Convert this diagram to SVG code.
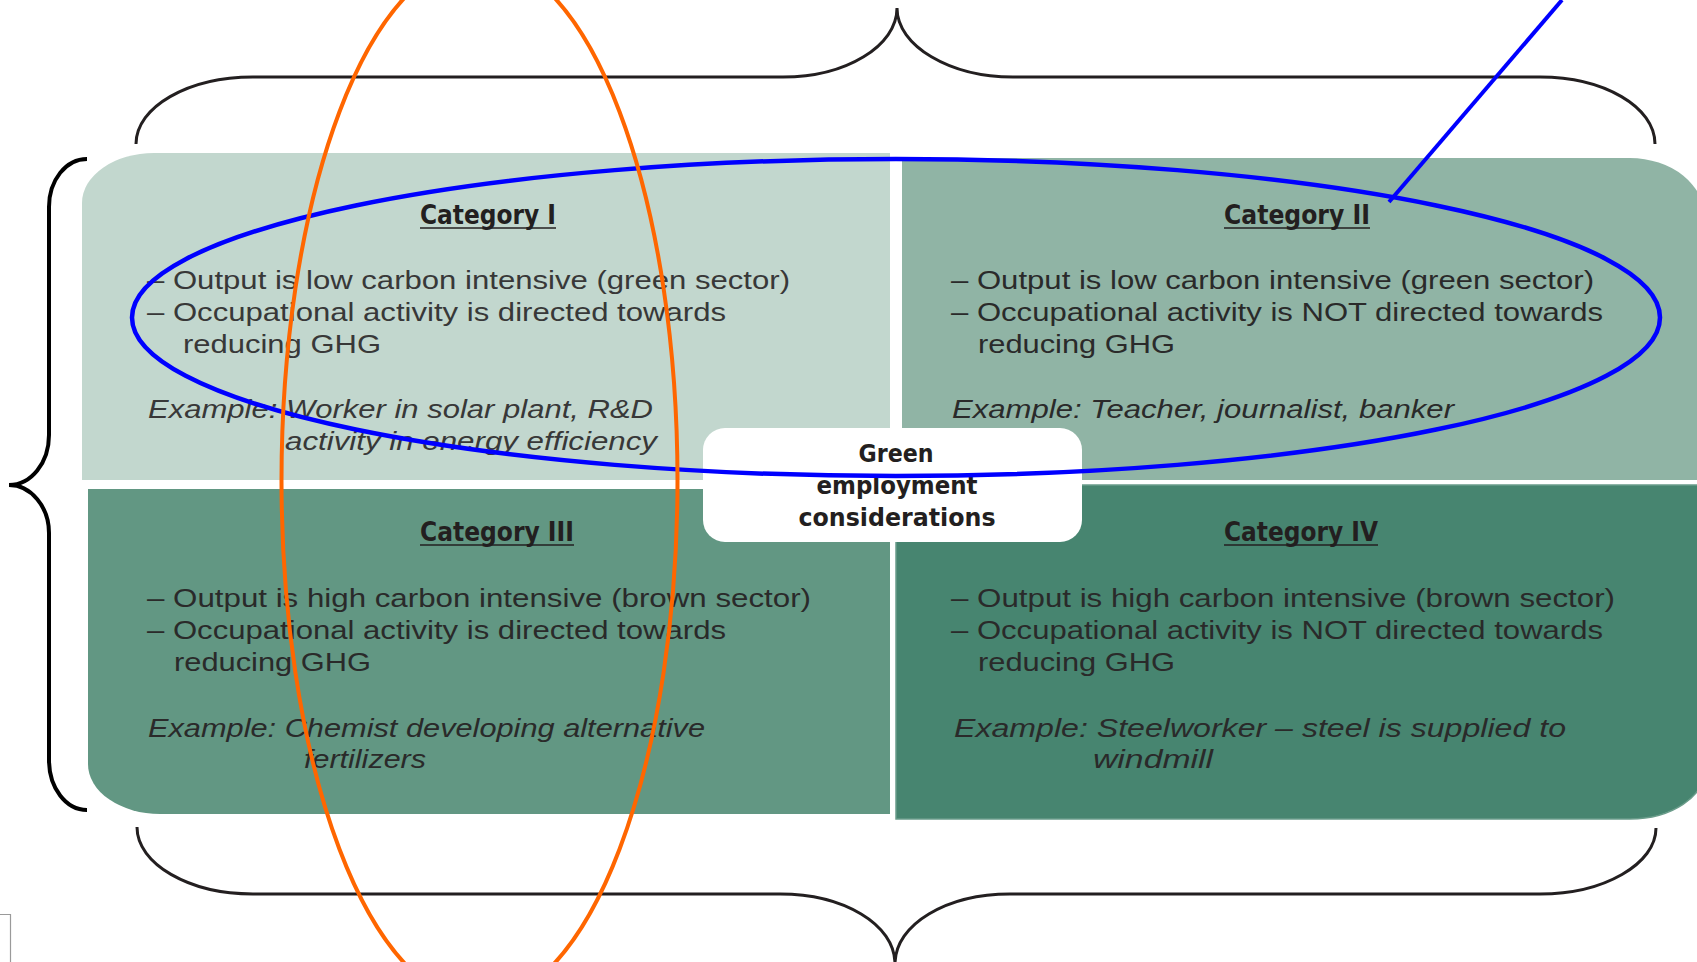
<svg xmlns="http://www.w3.org/2000/svg" width="1697" height="962" viewBox="0 0 1697 962">
<style>
.body{font-family:"Liberation Sans",Arial,sans-serif;font-size:26px;fill:#383838}
.dark{fill:#2a2a2a}
.ex{font-style:italic}
.head{font-family:"Liberation Sans Narrow","DejaVu Sans Condensed","Liberation Sans",sans-serif;font-size:26px;font-weight:bold;fill:#231f20}
.center{font-family:"DejaVu Sans Condensed","Liberation Sans",sans-serif;font-size:25px;font-weight:bold;fill:#231f20;text-anchor:middle}
.ul{stroke:#231f20;stroke-width:1.6}
.brace{fill:none;stroke:#231f20;stroke-width:3}
</style>
<rect width="1697" height="962" fill="#ffffff"/>

<g id="braces">
<path class="brace" d="M136,144 C136,107 188,77 253,77 L783,77 C846,77 897,46 897,8 C897,46 950,77 1013,77 L1540,77 C1604,77 1655,107 1655,144"/>
<path class="brace" d="M137,827 C137,864 189,894 253,894 L780,894 C843,894 895,924 895,964 C895,924 947,894 1010,894 L1540,894 C1604,894 1656,864 1656,828"/>
<path fill="none" stroke="#000000" stroke-width="4" d="M87,159 C66,159 49,180 49,207 L49,435 C49,463 31,485 9,485 C31,485 49,507 49,533 L49,760 C49,788 66,810 87,810"/>
<path fill="none" stroke="#9a9a9a" stroke-width="1.2" d="M0,914.5 L10.5,914.5 L10.5,962"/>
</g>

<g id="cat1">
<path d="M82,480 L82,203 A72,50 0 0 1 154,153 L890,153 L890,480 Z" fill="#c2d7ce"/>
<text class="head" x="420" y="224" textLength="136" lengthAdjust="spacingAndGlyphs">Category I</text>
<line class="ul" x1="420" y1="228" x2="556" y2="228"/>
<text class="body" x="147" y="289" textLength="643" lengthAdjust="spacingAndGlyphs">– Output is low carbon intensive (green sector)</text>
<text class="body" x="147" y="321" textLength="579" lengthAdjust="spacingAndGlyphs">– Occupational activity is directed towards</text>
<text class="body" x="183" y="353" textLength="198" lengthAdjust="spacingAndGlyphs">reducing GHG</text>
<text class="body ex" x="148" y="418" textLength="505" lengthAdjust="spacingAndGlyphs">Example: Worker in solar plant, R&amp;D</text>
<text class="body ex" x="285" y="450" textLength="372" lengthAdjust="spacingAndGlyphs">activity in energy efficiency</text>
</g>

<g id="cat2">
<path d="M902,158 L1630,158 A75,60 0 0 1 1705,218 L1705,480 L902,480 Z" fill="#90b4a5"/>
<text class="head" x="1224" y="224" textLength="146" lengthAdjust="spacingAndGlyphs">Category II</text>
<line class="ul" x1="1224" y1="228" x2="1370" y2="228"/>
<text class="body dark" x="951" y="289" textLength="643" lengthAdjust="spacingAndGlyphs">– Output is low carbon intensive (green sector)</text>
<text class="body dark" x="951" y="321" textLength="652" lengthAdjust="spacingAndGlyphs">– Occupational activity is NOT directed towards</text>
<text class="body dark" x="978" y="353" textLength="197" lengthAdjust="spacingAndGlyphs">reducing GHG</text>
<text class="body dark ex" x="952" y="418" textLength="502" lengthAdjust="spacingAndGlyphs">Example: Teacher, journalist, banker</text>
</g>

<g id="cat3">
<path d="M88,489 L890,489 L890,814 L160,814 A72,50 0 0 1 88,764 Z" fill="#629783"/>
<text class="head" x="420" y="541" textLength="154" lengthAdjust="spacingAndGlyphs">Category III</text>
<line class="ul" x1="420" y1="545" x2="574" y2="545"/>
<text class="body dark" x="147" y="607" textLength="664" lengthAdjust="spacingAndGlyphs">– Output is high carbon intensive (brown sector)</text>
<text class="body dark" x="147" y="639" textLength="579" lengthAdjust="spacingAndGlyphs">– Occupational activity is directed towards</text>
<text class="body dark" x="174" y="671" textLength="197" lengthAdjust="spacingAndGlyphs">reducing GHG</text>
<text class="body dark ex" x="148" y="737" textLength="557" lengthAdjust="spacingAndGlyphs">Example: Chemist developing alternative</text>
<text class="body dark ex" x="304" y="768" textLength="122" lengthAdjust="spacingAndGlyphs">fertilizers</text>
</g>

<g id="cat4">
<path d="M896,485 L1705,485 L1705,769 A75,50 0 0 1 1630,819 L896,819 Z" fill="#478570" stroke="#6a9c8a" stroke-width="1.5"/>
<text class="head" x="1224" y="541" textLength="154" lengthAdjust="spacingAndGlyphs">Category IV</text>
<line class="ul" x1="1224" y1="545" x2="1378" y2="545"/>
<text class="body dark" x="951" y="607" textLength="664" lengthAdjust="spacingAndGlyphs">– Output is high carbon intensive (brown sector)</text>
<text class="body dark" x="951" y="639" textLength="652" lengthAdjust="spacingAndGlyphs">– Occupational activity is NOT directed towards</text>
<text class="body dark" x="978" y="671" textLength="197" lengthAdjust="spacingAndGlyphs">reducing GHG</text>
<text class="body dark ex" x="954" y="737" textLength="612" lengthAdjust="spacingAndGlyphs">Example: Steelworker – steel is supplied to</text>
<text class="body dark ex" x="1093" y="768" textLength="120" lengthAdjust="spacingAndGlyphs">windmill</text>
</g>

<g id="center">
<rect x="703" y="428" width="379" height="114" rx="22" ry="22" fill="#ffffff"/>
<text class="center" x="896" y="462" textLength="75" lengthAdjust="spacingAndGlyphs">Green</text>
<text class="center" x="897" y="494" textLength="161" lengthAdjust="spacingAndGlyphs">employment</text>
<text class="center" x="897" y="526" textLength="197" lengthAdjust="spacingAndGlyphs">considerations</text>
</g>

<g id="connectors">
<ellipse cx="896" cy="317.5" rx="764" ry="158.5" fill="none" stroke="#0000ff" stroke-width="4.5"/>
<line x1="1562" y1="0" x2="1389" y2="202" stroke="#0000ff" stroke-width="4"/>
<ellipse cx="479.5" cy="480.5" rx="198" ry="521.6" fill="none" stroke="#ff6600" stroke-width="4"/>
</g>
</svg>
